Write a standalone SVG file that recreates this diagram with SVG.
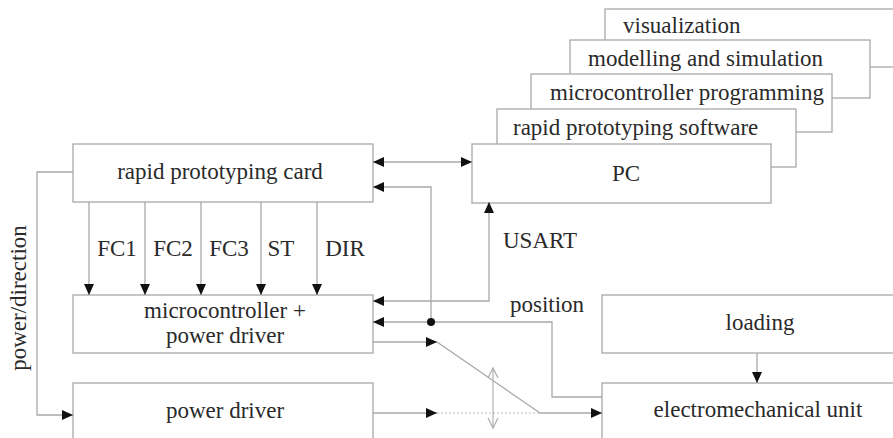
<svg xmlns="http://www.w3.org/2000/svg" width="893" height="438" viewBox="0 0 893 438">
<defs>
<marker id="ah" markerUnits="userSpaceOnUse" markerWidth="12" markerHeight="10" refX="11" refY="5" orient="auto-start-reverse">
<path d="M0,0 L11,5 L0,10 Z" fill="#111"/>
</marker>
<marker id="oh" markerUnits="userSpaceOnUse" markerWidth="12" markerHeight="12" refX="10" refY="6" orient="auto-start-reverse">
<path d="M0,1 L10,6 L0,11" fill="none" stroke="#b0b0b0" stroke-width="1.3"/>
</marker>
</defs>
<rect width="893" height="438" fill="#fff"/>

<g fill="#fff" stroke="#a8a8a8" stroke-width="1.3">
<rect id="visualization" x="605" y="9" width="300" height="58"/>
<rect id="modelling" x="570" y="40" width="300" height="58"/>
<rect id="mcprog" x="531" y="74" width="301" height="58"/>
<rect id="rpsoftware" x="497" y="109" width="299" height="58"/>
<rect id="pc" x="472" y="144" width="299" height="59"/>
<rect id="card" x="73" y="144" width="300" height="58"/>
<rect id="micro" x="73" y="295" width="300" height="58"/>
<rect id="powerdriver" x="73" y="383" width="300" height="70"/>
<rect id="loading" x="602" y="295" width="310" height="58"/>
<rect id="emunit" x="602" y="383" width="310" height="70"/>
</g>

<g id="connectors" fill="none" stroke="#a8a8a8" stroke-width="1.3">
<line x1="89" y1="202" x2="89" y2="295" marker-end="url(#ah)"/>
<line x1="145" y1="202" x2="145" y2="295" marker-end="url(#ah)"/>
<line x1="201" y1="202" x2="201" y2="295" marker-end="url(#ah)"/>
<line x1="261" y1="202" x2="261" y2="295" marker-end="url(#ah)"/>
<line x1="317" y1="202" x2="317" y2="295" marker-end="url(#ah)"/>
<line x1="373" y1="162" x2="472" y2="162" marker-start="url(#ah)" marker-end="url(#ah)"/>
<path d="M431,322 V187 H373" marker-end="url(#ah)"/>
<path d="M373,301 H489 V202" marker-start="url(#ah)" marker-end="url(#ah)"/>
<path d="M602,397 H552 V322 H373" marker-end="url(#ah)"/>
<circle cx="431" cy="322" r="4" fill="#111" stroke="none"/>
<line x1="373" y1="342" x2="437" y2="342" marker-end="url(#ah)"/>
<line x1="437" y1="342" x2="540" y2="413"/>
<line x1="373" y1="413" x2="437" y2="413" marker-end="url(#ah)"/>
<line x1="437" y1="413" x2="540" y2="413" stroke="#b8b8b8" stroke-width="1" stroke-dasharray="2,2"/>
<line x1="540" y1="413" x2="602" y2="413" marker-end="url(#ah)"/>
<path d="M73,172 H37 V415 H73" marker-end="url(#ah)"/>
<line x1="757" y1="353" x2="757" y2="383" marker-end="url(#ah)"/>
<line x1="493" y1="368" x2="493" y2="428" stroke="#b8b8b8" marker-start="url(#oh)" marker-end="url(#oh)"/>
</g>

<g font-family="Liberation Serif" font-size="23" fill="#2a2a2a">
<text x="623" y="33">visualization</text>
<text x="588" y="66">modelling and simulation</text>
<text x="550" y="100">microcontroller programming</text>
<text x="513" y="135">rapid prototyping software</text>
<text x="626" y="181" text-anchor="middle">PC</text>
<text x="220" y="179" text-anchor="middle">rapid prototyping card</text>
<text x="225" y="318" text-anchor="middle">microcontroller +</text>
<text x="225" y="343" text-anchor="middle">power driver</text>
<text x="225" y="418" text-anchor="middle">power driver</text>
<text x="760" y="330" text-anchor="middle">loading</text>
<text x="758" y="417" text-anchor="middle">electromechanical unit</text>
<text x="117" y="256" text-anchor="middle">FC1</text>
<text x="173" y="256" text-anchor="middle">FC2</text>
<text x="229" y="256" text-anchor="middle">FC3</text>
<text x="281" y="256" text-anchor="middle">ST</text>
<text x="345" y="256" text-anchor="middle">DIR</text>
<text x="503" y="248">USART</text>
<text x="510" y="312">position</text>
<text transform="translate(26,298) rotate(-90)" text-anchor="middle">power/direction</text>
</g>
</svg>
